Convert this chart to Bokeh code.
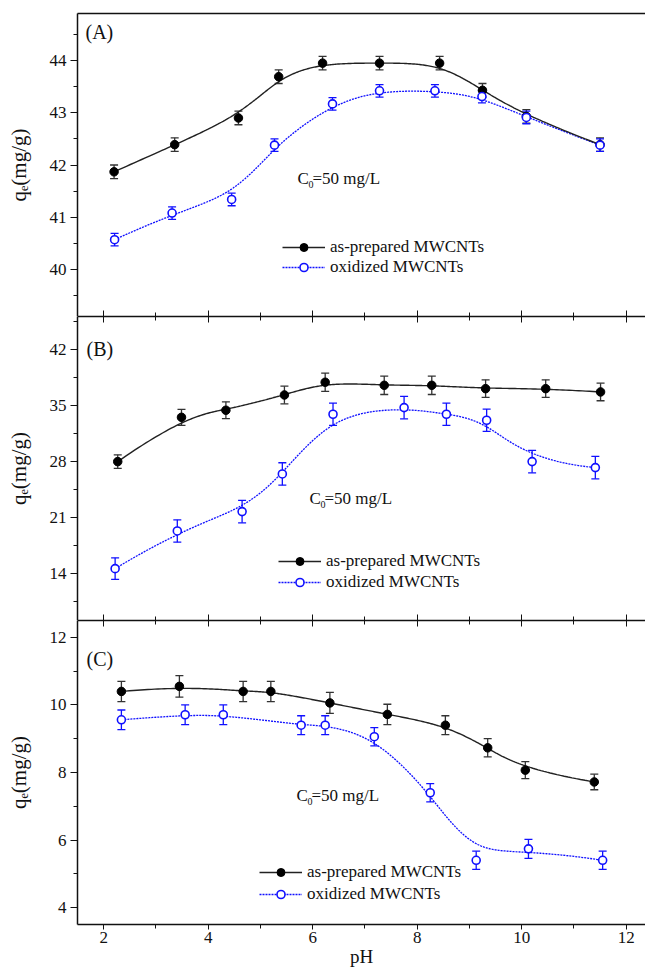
import numpy as np
from bokeh.plotting import figure
from bokeh.layouts import column
from bokeh.models import (Range1d, LinearAxis, FixedTicker, Whisker, TeeHead,
                          ColumnDataSource, Legend, LegendItem, Label)
from bokeh.embed import file_html
from bokeh.resources import INLINE

FONT = "Liberation Serif"
INK = "#111111"
BLUE = "#1010ff"

# ---------------- data ----------------
x_ticks = [2, 4, 6, 8, 10, 12]
x_minor = [3, 5, 7, 9, 11]

series_names = ["as-prepared MWCNTs", "oxidized MWCNTs"]
panel_names = ["(A)", "(B)", "(C)"]
y_title = "q\u2091(mg/g)"
x_title = "pH"

# Panel A
ph_A_prep = [2.20, 3.36, 4.58, 5.35, 6.19, 7.28, 8.43, 9.25, 10.09, 11.50]
qe_A_prep = [41.87, 42.39, 42.90, 43.69, 43.95, 43.95, 43.95, 43.43, 42.93, 42.39]
er_A_prep = [0.13, 0.13, 0.13, 0.13, 0.13, 0.13, 0.13, 0.13, 0.13, 0.13]
ph_A_oxid = [2.21, 3.31, 4.45, 5.27, 6.38, 7.28, 8.34, 9.24, 10.09, 11.50]
qe_A_oxid = [40.57, 41.08, 41.34, 42.38, 43.17, 43.42, 43.42, 43.31, 42.91, 42.38]
er_A_oxid = [0.12, 0.12, 0.12, 0.12, 0.12, 0.12, 0.12, 0.12, 0.12, 0.12]
y_ticks_A = [40, 41, 42, 43, 44]
y_minor_A = [39.5, 40.5, 41.5, 42.5, 43.5, 44.5]

# Panel B
ph_B_prep = [2.27, 3.49, 4.34, 5.46, 6.24, 7.37, 8.28, 9.31, 10.46, 11.51]
qe_B_prep = [27.96, 33.50, 34.38, 36.29, 37.88, 37.50, 37.50, 37.08, 37.08, 36.67]
er_B_prep = [0.85, 1.00, 1.05, 1.10, 1.15, 1.15, 1.15, 1.10, 1.10, 1.10]
ph_B_oxid = [2.22, 3.41, 4.65, 5.42, 6.39, 7.75, 8.56, 9.33, 10.20, 11.41]
qe_B_oxid = [14.58, 19.29, 21.71, 26.42, 33.88, 34.71, 33.88, 33.13, 27.96, 27.21]
er_B_oxid = [1.35, 1.40, 1.40, 1.40, 1.40, 1.40, 1.40, 1.40, 1.40, 1.40]
y_ticks_B = [14, 21, 28, 35, 42]
y_minor_B = [10.5, 17.5, 24.5, 31.5, 38.5, 45.5]

# Panel C
ph_C_prep = [2.34, 3.45, 4.67, 5.20, 6.33, 7.43, 8.54, 9.35, 10.07, 11.39]
qe_C_prep = [10.40, 10.55, 10.40, 10.40, 10.06, 9.72, 9.40, 8.73, 8.07, 7.72]
er_C_prep = [0.30, 0.32, 0.30, 0.30, 0.31, 0.30, 0.28, 0.27, 0.25, 0.23]
ph_C_oxid = [2.34, 3.56, 4.29, 5.78, 6.24, 7.18, 8.25, 9.13, 10.13, 11.55]
qe_C_oxid = [9.56, 9.71, 9.71, 9.40, 9.40, 9.06, 7.40, 5.40, 5.74, 5.40]
er_C_oxid = [0.29, 0.29, 0.29, 0.28, 0.28, 0.27, 0.27, 0.27, 0.28, 0.27]
y_ticks_C = [4, 6, 8, 10, 12]
y_minor_C = [5, 7, 9, 11]


def bspline(xs, ys, n=300):
    """Clamped cubic B-spline using the data points as control points
    (the 'B-spline' line connection of the original plot)."""
    P = np.column_stack([xs, ys]).astype(float)
    k = 3
    m = len(P)
    knots = np.concatenate([[0.0] * k, np.arange(0, m - k + 1, dtype=float),
                            [float(m - k)] * k])
    out = []
    for t in np.linspace(0, m - k, n):
        s = np.searchsorted(knots, t, side="right") - 1
        s = min(max(s, k), m - 1)
        d = [P[j + s - k].copy() for j in range(k + 1)]
        for r in range(1, k + 1):
            for j in range(k, r - 1, -1):
                den = knots[j + 1 + s - r] - knots[j + s - k]
                a = 0.0 if den == 0 else (t - knots[j + s - k]) / den
                d[j] = (1 - a) * d[j - 1] + a * d[j]
        out.append(d[k])
    out = np.array(out)
    return out[:, 0], out[:, 1]


xr = Range1d(1.5, 12.37)
FRAME_W = 568
LEFT = 77


def x_axis(inward, labels=False):
    ax = LinearAxis(ticker=FixedTicker(ticks=x_ticks, minor_ticks=x_minor))
    ax.axis_line_color = INK
    ax.axis_line_width = 1.5
    ax.major_tick_line_color = INK
    ax.minor_tick_line_color = INK
    if inward is None:
        ax.major_tick_in = 0
        ax.major_tick_out = 0
        ax.minor_tick_in = 0
        ax.minor_tick_out = 0
    elif inward:
        ax.major_tick_in = 6
        ax.major_tick_out = 0
        ax.minor_tick_in = 4
        ax.minor_tick_out = 0
    else:
        ax.major_tick_in = 0
        ax.major_tick_out = 5
        ax.minor_tick_in = 0
        ax.minor_tick_out = 4
    if labels:
        ax.major_label_text_font = FONT
        ax.major_label_text_font_size = "17px"
        ax.major_label_text_color = INK
        ax.major_label_standoff = 2
        ax.axis_label = x_title
        ax.axis_label_text_font = FONT
        ax.axis_label_text_font_size = "19px"
        ax.axis_label_text_font_style = "normal"
        ax.axis_label_text_color = INK
        ax.axis_label_standoff = 0
    else:
        ax.major_label_text_font_size = "0px"
        ax.major_label_text_color = None
        ax.major_label_standoff = 0
    return ax


def make_panel(idx, frame_h, yr, yt, ym, prep, oxid, top_border, top_ticks,
               bottom_mode, leg_loc, leg_spacing, c0_pos, tag_pos):
    p = figure(frame_width=FRAME_W, frame_height=frame_h, x_range=xr,
               y_range=Range1d(*yr), x_axis_type=None, y_axis_type=None,
               output_backend="svg", toolbar_location=None,
               min_border_left=LEFT, min_border_right=0,
               min_border_top=top_border, min_border_bottom=0,
               outline_line_color=None, background_fill_color="white",
               border_fill_color="white")

    # axes
    ya = LinearAxis(ticker=FixedTicker(ticks=yt, minor_ticks=ym))
    ya.axis_line_color = INK
    ya.axis_line_width = 1.5
    ya.major_tick_in = 0
    ya.major_tick_out = 7
    ya.minor_tick_in = 0
    ya.minor_tick_out = 4
    ya.major_tick_line_color = INK
    ya.minor_tick_line_color = INK
    ya.major_label_text_font = FONT
    ya.major_label_text_font_size = "17px"
    ya.major_label_text_color = INK
    ya.major_label_standoff = 4
    ya.axis_label = y_title
    ya.axis_label_text_font = FONT
    ya.axis_label_text_font_size = "21px"
    ya.axis_label_text_font_style = "normal"
    ya.axis_label_text_color = INK
    ya.axis_label_standoff = 16
    p.add_layout(ya, "left")
    p.add_layout(x_axis(True if top_ticks else None), "above")
    if bottom_mode == "inner":
        p.add_layout(x_axis(True), "below")
    else:
        p.add_layout(x_axis(False, labels=True), "below")

    (px, py, pe), (ox, oy, oe) = prep, oxid
    src_p = ColumnDataSource(dict(x=px, y=py, upper=np.array(py) + np.array(pe),
                                  lower=np.array(py) - np.array(pe)))
    src_o = ColumnDataSource(dict(x=ox, y=oy, upper=np.array(oy) + np.array(oe),
                                  lower=np.array(oy) - np.array(oe)))
    for src, col in ((src_p, "#333333"), (src_o, BLUE)):
        w = Whisker(source=src, base="x", upper="upper", lower="lower",
                    dimension="height", line_color=col, line_width=1.3,
                    upper_head=TeeHead(size=8, line_color=col, line_width=1.3),
                    lower_head=TeeHead(size=8, line_color=col, line_width=1.3),
                    level="underlay")
        p.add_layout(w)

    bx, by = bspline(ox, oy)
    l_o = p.line(bx, by, line_color=BLUE, line_width=1.3, line_dash="2 1")
    kx, ky = bspline(px, py)
    l_p = p.line(kx, ky, line_color="#222222", line_width=1.4)
    s_p = p.scatter("x", "y", source=src_p, size=8.5, marker="circle",
                    fill_color="#000000", line_color="#000000")
    s_o = p.scatter("x", "y", source=src_o, size=8, marker="circle",
                    fill_color="white", line_color=BLUE, line_width=1.6)

    leg = Legend(items=[LegendItem(label=series_names[0], renderers=[l_p, s_p]),
                        LegendItem(label=series_names[1], renderers=[l_o, s_o])],
                 location=leg_loc, padding=0, margin=0, spacing=leg_spacing,
                 glyph_width=43, glyph_height=20, label_height=20,
                 label_standoff=5, border_line_color=None,
                 background_fill_alpha=0, label_text_font=FONT,
                 label_text_font_size="17px", label_text_color=INK)
    p.add_layout(leg, "center")

    # panel tag
    p.add_layout(Label(x=tag_pos[0], y=tag_pos[1], x_units="screen", y_units="screen",
                       text=panel_names[idx], text_font=FONT, text_font_size="20px",
                       text_color=INK, text_baseline="alphabetic"))
    # C0 = 50 mg/L
    cx, cy = c0_pos
    p.add_layout(Label(x=cx, y=cy, x_units="screen", y_units="screen", text="C",
                       text_font=FONT, text_font_size="17px", text_color=INK,
                       text_baseline="alphabetic"))
    p.add_layout(Label(x=cx + 11, y=cy - 6, x_units="screen", y_units="screen", text="0",
                       text_font=FONT, text_font_size="10px", text_color=INK,
                       text_baseline="alphabetic"))
    p.add_layout(Label(x=cx + 15, y=cy, x_units="screen", y_units="screen",
                       text="=50 mg/L", text_font=FONT, text_font_size="17px",
                       text_color=INK, text_baseline="alphabetic"))
    return p


pA = make_panel(0, 303, (39.1, 44.9), y_ticks_A, y_minor_A,
                (ph_A_prep, qe_A_prep, er_A_prep), (ph_A_oxid, qe_A_oxid, er_A_oxid),
                top_border=13, top_ticks=False, bottom_mode="inner",
                leg_loc=(205, 39), leg_spacing=0, c0_pos=(220, 138),
                tag_pos=(8, 285))
pB = make_panel(1, 304, (8.1, 46.1), y_ticks_B, y_minor_B,
                (ph_B_prep, qe_B_prep, er_B_prep), (ph_B_oxid, qe_B_oxid, er_B_oxid),
                top_border=0, top_ticks=True, bottom_mode="inner",
                leg_loc=(201, 28), leg_spacing=1, c0_pos=(232, 122.5),
                tag_pos=(9, 271.5))
pC = make_panel(2, 304, (3.5, 12.5), y_ticks_C, y_minor_C,
                (ph_C_prep, qe_C_prep, er_C_prep), (ph_C_oxid, qe_C_oxid, er_C_oxid),
                top_border=0, top_ticks=True, bottom_mode="outer",
                leg_loc=(182, 20), leg_spacing=2, c0_pos=(219, 129),
                tag_pos=(9, 266))

layout = column(pA, pB, pC, spacing=0)
open("out.html", "w").write(file_html(layout, INLINE))
